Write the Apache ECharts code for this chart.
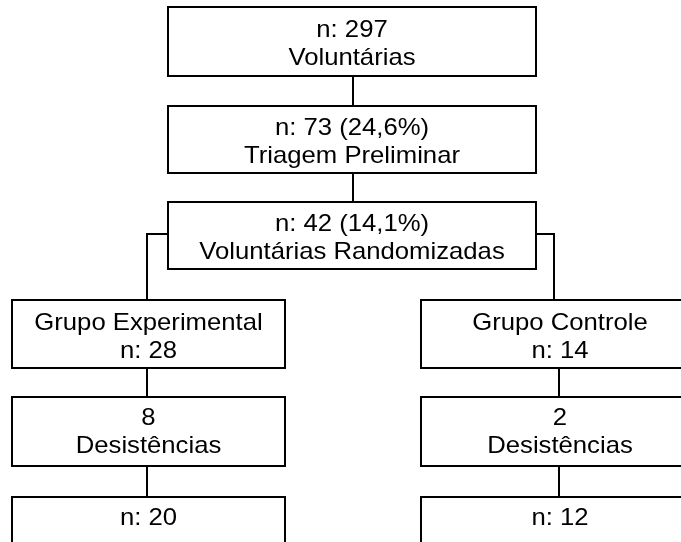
<!DOCTYPE html>
<html>
<head>
<meta charset="utf-8">
<script src="https://cdn.jsdelivr.net/npm/echarts@6/dist/echarts.min.js"></script>
<style>
  html, body { margin: 0; padding: 0; background: #fff; }
  #main { width: 681px; height: 542px; }
</style>
</head>
<body>
<div id="main"></div>
<script>
// conteúdo do fluxograma
var stageNames = ['Voluntárias', 'Triagem Preliminar', 'Voluntárias Randomizadas'];
var stageN = [297, 73, 42];
var stageShare = ['', '24,6%', '14,1%'];
var groupNames = ['Grupo Experimental', 'Grupo Controle'];
var groupN = [28, 14];
var dropouts = [8, 2];
var finalN = [20, 12];

// layout em px (eixos 1:1 com a tela)
var rowTop = [7, 106, 202, 300, 397, 497];
var rowBottom = [76, 173, 269, 368, 466, 566];
var topLeft = 168, topRight = 536, topMid = 353;
var colLeft = [12, 421], colRight = [285, 699];
var colMid = [147, 559];
var branchX = [147, 554];
var branchY = 234;

// caixas: [x0, y0, x1, y1, texto, deslocamento do texto]
var boxes = [];
for (var i = 0; i < stageNames.length; i++) {
  var first = 'n: ' + stageN[i] + (stageShare[i] ? ' (' + stageShare[i] + ')' : '');
  boxes.push([topLeft, rowTop[i], topRight, rowBottom[i], first + '\n' + stageNames[i], 3]);
}
for (var g = 0; g < 2; g++) {
  boxes.push([colLeft[g], rowTop[3], colRight[g], rowBottom[3], groupNames[g] + '\nn: ' + groupN[g], 3]);
  boxes.push([colLeft[g], rowTop[4], colRight[g], rowBottom[4], dropouts[g] + '\nDesistências', 1]);
  boxes.push([colLeft[g], rowTop[5], colRight[g], rowBottom[5], 'n: ' + finalN[g], -13]);
}

// conectores
var connectors = [
  { coords: [[topMid, rowBottom[0]], [topMid, rowTop[1]]] },
  { coords: [[topMid, rowBottom[1]], [topMid, rowTop[2]]] },
  { coords: [[topLeft, branchY], [branchX[0], branchY], [branchX[0], rowTop[3]]] },
  { coords: [[topRight, branchY], [branchX[1], branchY], [branchX[1], rowTop[3]]] }
];
for (var c = 0; c < 2; c++) {
  connectors.push({ coords: [[colMid[c], rowBottom[3]], [colMid[c], rowTop[4]]] });
  connectors.push({ coords: [[colMid[c], rowBottom[4]], [colMid[c], rowTop[5]]] });
}

var chart = echarts.init(document.getElementById('main'));
chart.setOption({
  animation: false,
  grid: { left: 0, right: 0, top: 0, bottom: 0 },
  xAxis: { type: 'value', min: 0, max: 681, show: false },
  yAxis: { type: 'value', min: 0, max: 542, inverse: true, show: false },
  series: [
    {
      type: 'lines',
      coordinateSystem: 'cartesian2d',
      polyline: true,
      silent: true,
      lineStyle: { color: '#000', width: 2, opacity: 1 },
      data: connectors
    },
    {
      type: 'custom',
      coordinateSystem: 'cartesian2d',
      silent: true,
      clip: false,
      data: boxes,
      encode: { x: [0, 2], y: [1, 3] },
      renderItem: function (params, api) {
        var p0 = api.coord([api.value(0), api.value(1)]);
        var p1 = api.coord([api.value(2), api.value(3)]);
        var b = boxes[params.dataIndex];
        return {
          type: 'group',
          children: [
            {
              type: 'rect',
              shape: { x: p0[0], y: p0[1], width: p1[0] - p0[0], height: p1[1] - p0[1] },
              style: { fill: '#fff', stroke: '#000', lineWidth: 2 }
            },
            {
              type: 'text',
              x: (p0[0] + p1[0]) / 2,
              y: (p0[1] + p1[1]) / 2 + b[5],
              scaleX: 1.07,
              style: {
                text: b[4],
                x: 0, y: 0,
                align: 'center',
                verticalAlign: 'middle',
                fontFamily: 'Liberation Sans, Arial, sans-serif',
                fontSize: 24,
                lineHeight: 28,
                fill: '#000'
              }
            }
          ]
        };
      }
    }
  ]
});
</script>
</body>
</html>
